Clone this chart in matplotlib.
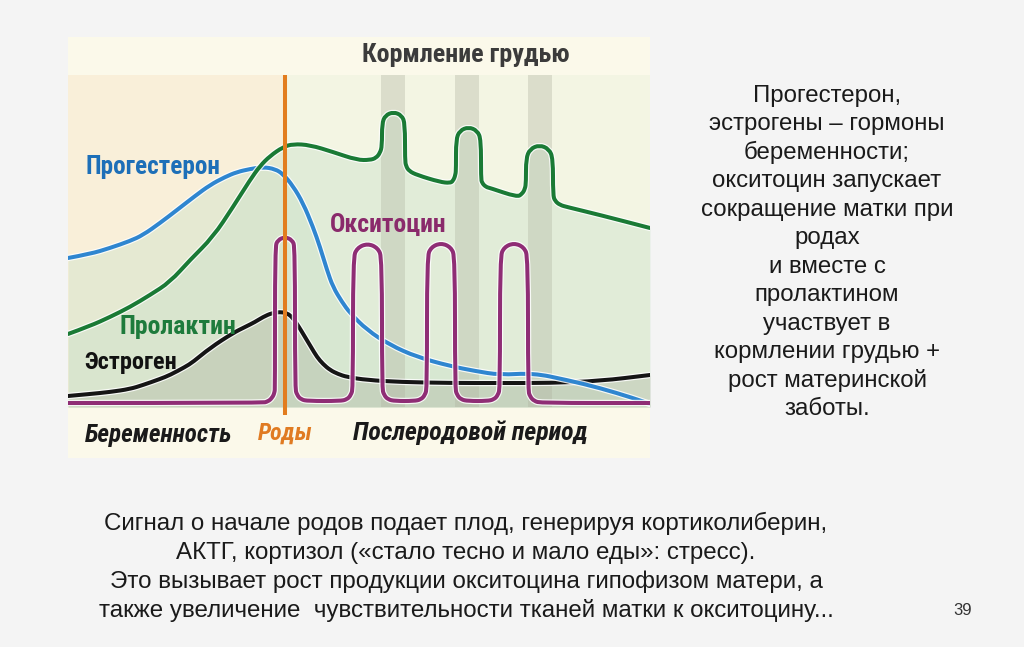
import matplotlib.pyplot as plt
import matplotlib.patheffects as pe
from matplotlib.path import Path
from matplotlib.patches import PathPatch, Rectangle
from matplotlib import font_manager
from matplotlib.font_manager import FontProperties
import os

# --- данные (время и уровень в условных единицах) ---
prolactin_t = [0, 22, 42, 62, 82, 102, 122, 145, 165, 182, 192, 202, 215, 225, 242, 265, 289, 302, 308, 312,
               314, 314, 317.3, 325.5, 333.7, 337, 337, 338, 341, 349, 372, 382, 385, 387.5, 388, 388, 391.7,
               400.5, 409.3, 413, 413, 414, 418, 422, 449, 454, 457, 458, 458, 462, 471.5, 481, 485, 485, 487,
               492, 499, 532, 582]
prolactin = [124, 132, 141, 151, 163, 176, 198, 221, 251, 278, 292, 302, 311, 314, 313, 306, 298, 298, 300, 305,
             312, 334.5, 342.7, 346, 342.7, 334.5, 298, 292, 287, 283, 276, 275, 277, 283, 290, 318.5, 327.3,
             331, 327.3, 318.5, 280, 275, 271, 270, 261, 264, 269, 276, 299.5, 309, 313, 309, 299.5, 263, 257,
             253, 251, 243, 230]

progesterone_t = [0, 22, 42, 62, 75, 92, 109, 127, 142, 157, 169, 182, 195, 207, 215, 225, 235, 245, 252, 259,
                  265, 274, 282, 299, 322, 349, 382, 407, 432, 465, 499, 532, 565, 582]
progesterone = [200, 204, 210, 217, 223, 235, 248, 262, 273, 281, 286, 289, 291, 289, 284, 272, 255, 231, 211, 188,
                171, 156, 145, 128, 113, 101, 92, 87, 83, 85, 78, 70, 60, 54]

estrogen_t = [0, 22, 42, 62, 75, 92, 102, 117, 125, 142, 165, 177, 187, 195, 204, 212, 219, 225, 231, 237,
              243, 249, 255, 262, 270, 279, 299, 332, 382, 432, 482, 532, 582]
estrogen = [62, 64, 66, 69, 73, 79, 83, 91, 96, 110, 125, 131, 136, 141, 145, 146, 145, 140, 131, 121,
            111, 101, 94, 88, 84, 81, 78, 76, 75, 75, 75, 77, 83]

oxytocin_t = [0, 194, 200, 204, 206.5, 207, 207, 209.9, 217, 224.1, 227, 227, 229, 233, 240, 272, 279, 283, 285, 285,
              289.2, 299.5, 309.8, 314, 314, 316, 320, 327, 346, 353, 357, 359, 359, 363.1, 373, 382.9, 387, 387,
              389, 393, 400, 419, 426, 430, 432, 432, 436.1, 446, 455.9, 460, 460, 462, 466, 473, 582]
oxytocin = [55, 55, 56.5, 60, 65, 71, 211, 218.1, 221, 218.1, 211, 70, 63, 58.5, 57, 57, 58.5, 63, 70, 200,
            210.2, 214.5, 210.2, 200, 70, 63, 58.5, 57, 57, 58.5, 63, 70, 201, 210.9, 215, 210.9, 201, 70,
            63, 58.5, 57, 57, 58.5, 63, 70, 201, 210.9, 215, 210.9, 201, 68, 61.5, 57, 55, 55]

birth_t = 217
feeding = [(313, 337), (387, 411), (460, 484)]
area_bottom, area_top = 51, 383

right_lines = ["Прогестерон,", "эстрогены – гормоны", "беременности;", "окситоцин запускает",
               "сокращение матки при", "родах", "и вместе с", "пролактином", "участвует в",
               "кормлении грудью +", "рост материнской", "заботы."]
bottom_lines = ["Сигнал о начале родов подает плод, генерируя кортиколиберин,",
                "АКТГ, кортизол («стало тесно и мало еды»: стресс).",
                "Это вызывает рост продукции окситоцина гипофизом матери, а",
                "также увеличение  чувствительности тканей матки к окситоцину..."]


# узкий жирный шрифт для подписей на рисунке, если найдётся
def pick(files, style):
    have = {os.path.basename(f.fname): f.fname for f in font_manager.fontManager.ttflist}
    for f in files:
        if f in have:
            return FontProperties(fname=have[f])
    return FontProperties(family='DejaVu Sans', weight='bold', style=style)


fp_bold = pick(['LiberationSansNarrow-Bold.ttf', 'RobotoCondensed-Bold.ttf', 'DejaVuSansCondensed-Bold.ttf'],
               'normal')
fp_ital = pick(['LiberationSansNarrow-BoldItalic.ttf', 'RobotoCondensed-BoldItalic.ttf',
                'DejaVuSansCondensed-BoldOblique.ttf'], 'italic')

W, H = 1024, 647
fig = plt.figure(figsize=(W / 100, H / 100), dpi=100, facecolor='#f4f4f4')
ax = fig.add_axes([68 / W, 1 - 458 / H, 582 / W, 421 / H])
ax.set_xlim(0, 582)
ax.set_ylim(0, 421)
ax.axis('off')

ax.add_patch(Rectangle((0, 0), 582, 421, facecolor='#fbf9ea', lw=0, zorder=0))
ax.fill_between([0, birth_t], area_bottom, area_top, color='#f9efd9', lw=0, zorder=0.5)
ax.fill_between([birth_t, 582], area_bottom, area_top, color='#f3f5e3', lw=0, zorder=0.5)

ax.fill_between(prolactin_t, area_bottom, prolactin, color='#c8e0c8', alpha=0.4, lw=0, zorder=1)
ax.fill_between(progesterone_t, area_bottom, progesterone, color='#c8e0c8', alpha=0.4, lw=0, zorder=1)
ax.fill_between(estrogen_t, area_bottom, estrogen, color='#a9b09c', alpha=0.35, lw=0, zorder=1)

for a, b in feeding:
    ax.fill_between([a, b], area_bottom, area_top, color='#b0b3a0', alpha=0.35, lw=0, zorder=2)


def smooth(t, v):
    verts = [(t[0], v[0])]
    codes = [Path.MOVETO]
    for i in range(1, len(t) - 1):
        verts += [(t[i], v[i]), ((t[i] + t[i + 1]) / 2, (v[i] + v[i + 1]) / 2)]
        codes += [Path.CURVE3, Path.CURVE3]
    verts.append((t[-1], v[-1]))
    codes.append(Path.LINETO)
    return Path(verts, codes)


halo = [pe.Stroke(linewidth=4.6, foreground='white', alpha=0.85), pe.Normal()]
for t, v, c, z in [(estrogen_t, estrogen, '#151515', 3), (progesterone_t, progesterone, '#2f86d0', 4),
                   (prolactin_t, prolactin, '#1a7a35', 5), (oxytocin_t, oxytocin, '#8f2d75', 6)]:
    ax.add_patch(PathPatch(smooth(t, v), fill=False, edgecolor=c, lw=2.9, capstyle='round',
                           joinstyle='round', path_effects=halo, zorder=z))

ax.vlines(birth_t, 43, area_top, color='#e27d1f', lw=2.9, zorder=7)

# подписи на рисунке: (текст, t, уровень, цвет, ширина в px, курсив)
labels = [("Кормление грудью", 398, 403, '#3b3b3b', 208, False),
          ("Прогестерон", 84.5, 291, '#1d6fb8', 135, False),
          ("Окситоцин", 320, 233, '#8a2a6b', 117, False),
          ("Пролактин", 110, 131, '#1e7b3c', 117, False),
          ("Эстроген", 63, 96, '#111111', 93, False),
          ("Беременность", 91, 23, '#1a1a1a', 148, True),
          ("Роды", 217, 25, '#e07b22', 55, True),
          ("Послеродовой период", 402, 25, '#1a1a1a', 236, True)]
fits = []
for s, x, y, c, w, it in labels:
    tx = ax.text(x, y, s, color=c, fontproperties=(fp_ital if it else fp_bold).copy(),
                 ha='center', va='center', zorder=8)
    tx.set_fontsize(16)
    fits.append((tx, w))

right_txt = [fig.text(827 / W, 1 - (102 + 28.45 * i) / H, s, ha='center', va='baseline',
                      family='Liberation Sans', fontsize=16.5, color='#1a1a1a')
             for i, s in enumerate(right_lines)]
bottom_txt = [fig.text(466 / W, 1 - (530 + 29 * i) / H, s, ha='center', va='baseline',
                       family='Liberation Sans', fontsize=16.5, color='#1a1a1a')
              for i, s in enumerate(bottom_lines)]
fig.text(963 / W, 1 - 615 / H, "39", ha='center', va='baseline', family='Liberation Sans',
         fontsize=12, color='#333333')

fig.canvas.draw()
r = fig.canvas.get_renderer()
for tx, w in fits:
    tx.set_fontsize(tx.get_fontsize() * w / tx.get_window_extent(r).width)
k = 253 / right_txt[4].get_window_extent(r).width
for tx in right_txt:
    tx.set_fontsize(tx.get_fontsize() * k)
k = 725 / bottom_txt[0].get_window_extent(r).width
for tx in bottom_txt:
    tx.set_fontsize(tx.get_fontsize() * k)

fig.savefig('out.png', dpi=100, facecolor=fig.get_facecolor())
